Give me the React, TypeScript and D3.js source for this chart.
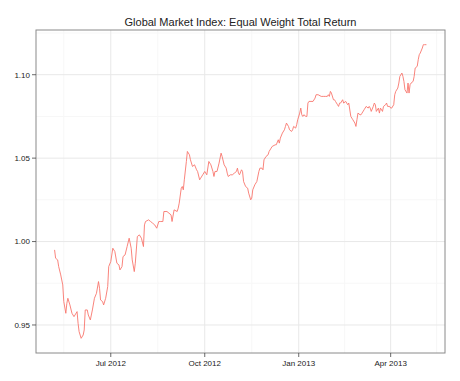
import React from 'react';
import * as d3 from 'd3';

const title = 'Global Market Index: Equal Weight Total Return';

const dates = [
  '2012-05-07','2012-05-08','2012-05-10','2012-05-11','2012-05-13','2012-05-15','2012-05-16','2012-05-18','2012-05-19','2012-05-20',
  '2012-05-22','2012-05-24','2012-05-26','2012-05-27','2012-05-29','2012-05-30','2012-05-31','2012-06-02','2012-06-04','2012-06-05',
  '2012-06-06','2012-06-08','2012-06-09','2012-06-11','2012-06-13','2012-06-15','2012-06-17','2012-06-19','2012-06-20','2012-06-21',
  '2012-06-23','2012-06-24','2012-06-26','2012-06-28','2012-06-29','2012-07-01','2012-07-03','2012-07-05','2012-07-07','2012-07-09',
  '2012-07-10','2012-07-12','2012-07-13','2012-07-15','2012-07-17','2012-07-19','2012-07-21','2012-07-22','2012-07-24','2012-07-25',
  '2012-07-27','2012-07-29','2012-07-31','2012-08-02','2012-08-03','2012-08-04','2012-08-07','2012-08-09','2012-08-11','2012-08-13',
  '2012-08-15','2012-08-17','2012-08-19','2012-08-21','2012-08-22','2012-08-25','2012-08-27','2012-08-29','2012-08-30','2012-09-01',
  '2012-09-04','2012-09-05','2012-09-06','2012-09-08','2012-09-09','2012-09-10','2012-09-11','2012-09-13','2012-09-14','2012-09-16',
  '2012-09-17','2012-09-19','2012-09-21','2012-09-23','2012-09-24','2012-09-26','2012-09-27','2012-09-29','2012-10-01','2012-10-03',
  '2012-10-05','2012-10-07','2012-10-09','2012-10-10','2012-10-11','2012-10-13','2012-10-15','2012-10-17','2012-10-18','2012-10-20',
  '2012-10-22','2012-10-23','2012-10-24','2012-10-26','2012-10-28','2012-10-30','2012-11-01','2012-11-02','2012-11-03','2012-11-04',
  '2012-11-06','2012-11-07','2012-11-08','2012-11-10','2012-11-12','2012-11-13','2012-11-15','2012-11-16','2012-11-17','2012-11-19',
  '2012-11-21','2012-11-23','2012-11-24','2012-11-26','2012-11-27','2012-11-28','2012-11-30','2012-12-02','2012-12-03','2012-12-05',
  '2012-12-06','2012-12-09','2012-12-10','2012-12-12','2012-12-13','2012-12-14','2012-12-16','2012-12-18','2012-12-19','2012-12-20',
  '2012-12-22','2012-12-23','2012-12-25','2012-12-26','2012-12-27','2012-12-29','2012-12-30','2012-12-31','2013-01-02','2013-01-03',
  '2013-01-04','2013-01-05','2013-01-06','2013-01-08','2013-01-09','2013-01-10','2013-01-11','2013-01-13','2013-01-15','2013-01-17',
  '2013-01-18','2013-01-20','2013-01-23','2013-01-25','2013-01-27','2013-01-29','2013-01-30','2013-01-31','2013-02-01','2013-02-02',
  '2013-02-04','2013-02-05','2013-02-06','2013-02-08','2013-02-09','2013-02-10','2013-02-11','2013-02-13','2013-02-14','2013-02-16',
  '2013-02-18','2013-02-19','2013-02-21','2013-02-22','2013-02-23','2013-02-25','2013-02-26','2013-02-27','2013-02-28','2013-03-02',
  '2013-03-03','2013-03-04','2013-03-06','2013-03-07','2013-03-08','2013-03-10','2013-03-11','2013-03-12','2013-03-13','2013-03-15',
  '2013-03-16','2013-03-17','2013-03-18','2013-03-20','2013-03-21','2013-03-22','2013-03-24','2013-03-25','2013-03-27','2013-03-28',
  '2013-03-29','2013-03-31','2013-04-01','2013-04-02','2013-04-04','2013-04-05','2013-04-06','2013-04-08','2013-04-09','2013-04-10',
  '2013-04-12','2013-04-13','2013-04-14','2013-04-15','2013-04-17','2013-04-18','2013-04-19','2013-04-20','2013-04-21','2013-04-23',
  '2013-04-24','2013-04-25','2013-04-27','2013-04-28','2013-04-29','2013-04-30','2013-05-02','2013-05-03','2013-05-04','2013-05-06',
];

const values = [
  0.995, 0.990, 0.989, 0.985, 0.980, 0.974, 0.964, 0.957, 0.963, 0.966,
  0.962, 0.957, 0.955, 0.956, 0.958, 0.951, 0.946, 0.942, 0.944, 0.947,
  0.959, 0.959, 0.956, 0.953, 0.959, 0.966, 0.969, 0.976, 0.972, 0.965,
  0.964, 0.962, 0.966, 0.973, 0.985, 0.988, 0.996, 0.994, 0.987, 0.986,
  0.983, 0.985, 0.991, 0.992, 0.997, 1.002, 0.996, 0.989, 0.982, 0.987,
  1.003, 1.004, 1.002, 0.997, 1.010, 1.012, 1.013, 1.012, 1.011, 1.010,
  1.008, 1.012, 1.012, 1.012, 1.018, 1.018, 1.017, 1.016, 1.012, 1.019,
  1.018, 1.020, 1.023, 1.032, 1.033, 1.031, 1.037, 1.048, 1.054, 1.052,
  1.049, 1.045, 1.046, 1.043, 1.042, 1.037, 1.038, 1.040, 1.042, 1.040,
  1.048, 1.046, 1.042, 1.039, 1.042, 1.042, 1.047, 1.053, 1.051, 1.046,
  1.044, 1.041, 1.039, 1.040, 1.040, 1.041, 1.042, 1.044, 1.041, 1.040,
  1.043, 1.042, 1.036, 1.033, 1.032, 1.029, 1.025, 1.026, 1.031, 1.034,
  1.036, 1.042, 1.044, 1.044, 1.043, 1.049, 1.051, 1.052, 1.054, 1.056,
  1.057, 1.058, 1.058, 1.061, 1.059, 1.062, 1.065, 1.067, 1.069, 1.071,
  1.069, 1.067, 1.066, 1.067, 1.069, 1.068, 1.070, 1.073, 1.077, 1.080,
  1.076, 1.075, 1.076, 1.075, 1.075, 1.083, 1.084, 1.084, 1.084, 1.086,
  1.088, 1.088, 1.087, 1.087, 1.087, 1.087, 1.088, 1.087, 1.090, 1.089,
  1.085, 1.085, 1.084, 1.082, 1.081, 1.083, 1.083, 1.085, 1.083, 1.084,
  1.082, 1.083, 1.075, 1.074, 1.073, 1.071, 1.069, 1.073, 1.077, 1.076,
  1.076, 1.077, 1.079, 1.080, 1.081, 1.080, 1.081, 1.080, 1.078, 1.081,
  1.083, 1.082, 1.078, 1.080, 1.077, 1.080, 1.078, 1.081, 1.082, 1.083,
  1.081, 1.081, 1.080, 1.080, 1.082, 1.088, 1.090, 1.092, 1.095, 1.099,
  1.101, 1.099, 1.096, 1.091, 1.089, 1.095, 1.089, 1.094, 1.095, 1.096,
  1.099, 1.104, 1.105, 1.109, 1.112, 1.113, 1.116, 1.118, 1.118, 1.118,
];

const yTicks = [0.95, 1.0, 1.05, 1.1];
const yTickLabels = ['0.95', '1.00', '1.05', '1.10'];
const yMinorTicks = [0.925, 0.975, 1.025, 1.075, 1.125];
const xTickDates = ['2012-07-01', '2012-10-01', '2013-01-01', '2013-04-01'];
const xTickLabels = ['Jul 2012', 'Oct 2012', 'Jan 2013', 'Apr 2013'];
const xMinorDates = ['2012-05-16', '2012-08-16', '2012-11-16', '2013-02-15', '2013-05-16'];

const W = 460;
const H = 381;
const left = 36;
const right = 445;
const top = 30;
const bottom = 353;
const font = '"Liberation Sans", Arial, Helvetica, sans-serif';

export default function App() {
  const parse = d3.timeParse('%Y-%m-%d');
  const data = dates.map((d, i) => ({ date: parse(d) as Date, value: values[i] }));

  const [d0, d1] = d3.extent(data, (d) => d.date) as [Date, Date];
  const span = +d1 - +d0;
  const x = d3
    .scaleTime()
    .domain([new Date(+d0 - span * 0.05), new Date(+d1 + span * 0.05)])
    .range([left, right]);

  const [v0, v1] = d3.extent(data, (d) => d.value) as [number, number];
  const vs = v1 - v0;
  const y = d3
    .scaleLinear()
    .domain([v0 - vs * 0.05, v1 + vs * 0.05])
    .range([bottom, top]);

  const line = d3
    .line<{ date: Date; value: number }>()
    .x((d) => x(d.date))
    .y((d) => y(d.value));

  const inY = (v: number) => y(v) >= top && y(v) <= bottom;
  const inX = (d: Date) => x(d) >= left && x(d) <= right;

  return (
    <svg
      width={W}
      height={H}
      style={{ position: 'absolute', left: 0, top: 0, background: '#fff' }}
      fontFamily={font}
    >
      <rect x={0} y={0} width={W} height={H} fill="#fff" />
      {/* minor grid */}
      {yMinorTicks.filter(inY).map((t) => (
        <line key={'ym' + t} x1={left} x2={right} y1={y(t)} y2={y(t)} stroke="#f7f7f7" strokeWidth={1} />
      ))}
      {xMinorDates.map((s) => parse(s) as Date).filter(inX).map((d) => (
        <line key={'xm' + +d} x1={x(d)} x2={x(d)} y1={top} y2={bottom} stroke="#f7f7f7" strokeWidth={1} />
      ))}
      {/* major grid */}
      {yTicks.map((t) => (
        <line key={'yg' + t} x1={left} x2={right} y1={y(t)} y2={y(t)} stroke="#e8e8e8" strokeWidth={1} />
      ))}
      {xTickDates.map((s) => {
        const d = parse(s) as Date;
        return <line key={'xg' + s} x1={x(d)} x2={x(d)} y1={top} y2={bottom} stroke="#e8e8e8" strokeWidth={1} />;
      })}
      {/* data line */}
      <path d={line(data) || ''} fill="none" stroke="#F8766D" strokeWidth={0.9} />
      {/* panel border */}
      <rect x={left} y={top} width={right - left} height={bottom - top} fill="none" stroke="#8a8a8a" strokeWidth={1} />
      {/* y axis */}
      {yTicks.map((t, i) => (
        <g key={'yt' + t}>
          <line x1={left - 4} x2={left} y1={y(t)} y2={y(t)} stroke="#444" strokeWidth={0.8} />
          <text x={left - 6} y={y(t)} dy="0.35em" textAnchor="end" fontSize={8} fill="#222">
            {yTickLabels[i]}
          </text>
        </g>
      ))}
      {/* x axis */}
      {xTickDates.map((s, i) => {
        const d = parse(s) as Date;
        return (
          <g key={'xt' + s}>
            <line x1={x(d)} x2={x(d)} y1={bottom} y2={bottom + 4} stroke="#444" strokeWidth={0.8} />
            <text x={x(d)} y={bottom + 13} textAnchor="middle" fontSize={8} fill="#222">
              {xTickLabels[i]}
            </text>
          </g>
        );
      })}
      <text x={(left + right) / 2} y={26} textAnchor="middle" fontSize={11} fill="#222">
        {title}
      </text>
    </svg>
  );
}
